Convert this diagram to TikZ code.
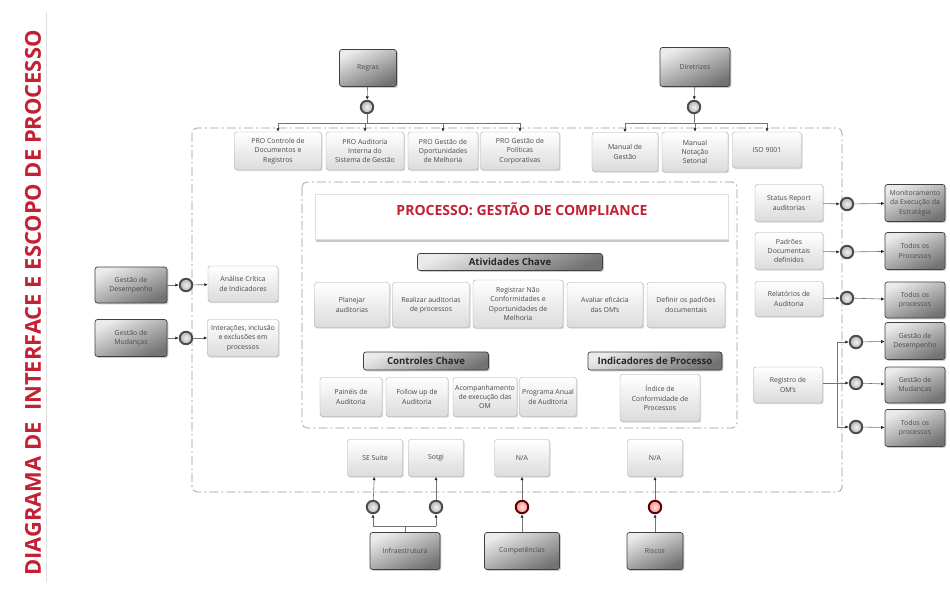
\documentclass[tikz,border=0pt]{standalone}
\usepackage{fontspec}
\setmainfont{Open Sans}
\usetikzlibrary{arrows.meta, shadows}

\definecolor{titlered}{RGB}{196,32,52}
\definecolor{boxtext}{RGB}{72,72,72}
\newcommand{\boxfont}{\fontsize{6.9}{9.4}\selectfont}

\tikzset{
  dims/.style 2 args={minimum width=#1pt, minimum height=#2pt},
  base/.style={rounded corners=2.5pt, align=center, inner sep=1pt, font=\boxfont, text=boxtext},
  lightbox/.style={base, draw=black!35, top color=white, bottom color=black!14,
    drop shadow={shadow xshift=1.2pt, shadow yshift=-1.2pt, opacity=0.3}},
  darkbox/.style={base, draw=black!75, line width=0.7pt, top color=black!8, bottom color=black!55,
    shading angle=25, text=black!70,
    drop shadow={shadow xshift=1.4pt, shadow yshift=-1.4pt, opacity=0.4}},
  header/.style={darkbox, font=\bfseries\fontsize{9.6}{10}\selectfont, text=black!85},
  titlebox/.style={draw=black!12, fill=white,
    drop shadow={shadow xshift=0.6pt, shadow yshift=-2.2pt, opacity=0.45}},
  port/.style={circle, draw=black!70, line width=1.9pt, inner color=black!5, outer color=black!30,
    minimum size=12.5pt, inner sep=0pt},
  riskport/.style={port, draw=red!35!black, inner color=red!12, outer color=red!45},
  link/.style={draw=black!55, line width=0.6pt},
  flow/.style={link, -{Latex[length=3.5pt, width=3.2pt, color=black!85]}},
  scopeline/.style={draw=black!40, line width=0.7pt, dash pattern=on 9pt off 3pt on 2pt off 3pt,
    rounded corners=5pt},
}

\begin{document}
\begin{tikzpicture}[x=1pt, y=-1pt]
  \useasboundingbox (0,0) rectangle (950,593);

  % side title
  \draw[black!12, line width=0.8pt] (46,12) -- (46,582);
  \node[rotate=90, font=\bfseries\fontsize{21.9}{22}\selectfont, text=titlered] (sidetitle) at (33,303)
    {DIAGRAMA DE~~INTERFACE E ESCOPO DE PROCESSO};

  % scope frames
  \draw[scopeline] (192,128) rectangle (842,492);
  \draw[scopeline] (302,182) rectangle (737,428);

  % rules and guidelines
  \node[darkbox, dims={57}{37}] (regras) at (368,68) {Regras};
  \node[port] (pregras) at (367,107) {};
  \node[darkbox, dims={70}{39}] (diretrizes) at (695,67) {Diretrizes};
  \node[port] (pdiretrizes) at (694,107) {};

  \node[lightbox, dims={87}{38}] (pro1) at (278,151) {PRO Controle de\\Documentos e\\Registros};
  \node[lightbox, dims={78}{38}] (pro2) at (365,151) {PRO Auditoria\\Interna do\\Sistema de Gestão};
  \node[lightbox, dims={70}{38}] (pro3) at (443,151) {PRO Gestão de\\Oportunidades\\de Melhoria};
  \node[lightbox, dims={79}{38}] (pro4) at (520,151) {PRO Gestão de\\Políticas\\Corporativas};
  \node[lightbox, dims={66}{39}] (man1) at (625,152) {Manual de\\Gestão};
  \node[lightbox, dims={66}{40}] (man2) at (695,152) {Manual\\Notação\\Setorial};
  \node[lightbox, dims={69}{36}] (iso) at (767,150) {ISO 9001};

  \coordinate (rbusL) at (278,123);
  \coordinate (rbusR) at (520,123);
  \coordinate (dbusL) at (625,123);
  \coordinate (dbusR) at (767,123);

  \draw[flow] (regras) -- (pregras);
  \draw[link] (pregras) -- (pregras |- rbusL);
  \draw[link] (rbusL) -- (rbusR);
  \foreach \p in {pro1,pro2,pro3,pro4}
    \draw[flow] (\p |- rbusL) -- (\p);
  \draw[flow] (diretrizes) -- (pdiretrizes);
  \draw[link] (pdiretrizes) -- (pdiretrizes |- dbusL);
  \draw[link] (dbusL) -- (dbusR);
  \foreach \p in {man1,man2,iso}
    \draw[flow] (\p |- dbusL) -- (\p);

  % left inputs
  \node[darkbox, dims={72}{36}] (gdin) at (131,285) {Gestão de\\Desempenho};
  \node[port] (pgdin) at (186,285) {};
  \node[lightbox, dims={70}{36}] (analise) at (243,284) {Análise Crítica\\de Indicadores};
  \node[darkbox, dims={72}{37}] (gmin) at (131,338) {Gestão de\\Mudanças};
  \node[port] (pgmin) at (186,338) {};
  \node[lightbox, dims={71}{37}] (interacoes) at (243,338) {Interações, inclusão\\e exclusões em\\processos};

  \draw[flow] (gdin) -- (pgdin);
  \draw[flow] (pgdin) -- (analise);
  \draw[flow] (gmin) -- (pgmin);
  \draw[flow] (pgmin) -- (interacoes);

  % process core
  \node[titlebox, dims={413}{45}] (procbox) at (522,217) {};
  \node[font=\bfseries\fontsize{14}{15}\selectfont, text=titlered] (proctitle) at (522,209)
    {PROCESSO: GESTÃO DE COMPLIANCE};

  \node[header, dims={185}{17}] (ativ) at (510,262) {Atividades Chave};
  \node[lightbox, dims={75}{45}] (act1) at (352,305) {Planejar\\auditorias};
  \node[lightbox, dims={77}{45}] (act2) at (431,305) {Realizar auditorias\\de processos};
  \node[lightbox, dims={90}{48}] (act3) at (518,304) {Registrar Não\\Conformidades e\\Oportunidades de\\Melhoria};
  \node[lightbox, dims={76}{45}] (act4) at (605,305) {Avaliar eficácia\\das OM's};
  \node[lightbox, dims={78}{45}] (act5) at (686,305) {Definir os padrões\\documentais};

  \node[header, dims={125}{18}] (ctrl) at (426,361) {Controles Chave};
  \node[header, dims={134}{18}] (indic) at (655,361) {Indicadores de Processo};
  \node[lightbox, dims={62}{39}] (ctl1) at (351,397) {Painéis de\\Auditoria};
  \node[lightbox, dims={62}{39}] (ctl2) at (417,397) {Follow up de\\Auditoria};
  \node[lightbox, dims={64}{39}] (ctl3) at (485,397) {Acompanhamento\\de execução das\\OM};
  \node[lightbox, dims={57}{39}] (ctl4) at (548,397) {Programa Anual\\de Auditoria};
  \node[lightbox, dims={80}{47}] (ind1) at (660,398) {Índice de\\Conformidade de\\Processos};

  % right outputs
  \node[lightbox, dims={68}{37}] (status) at (789,203) {Status Report\\auditorias};
  \node[port] (pstatus) at (847,204) {};
  \node[darkbox, dims={60}{37}] (monit) at (915,203) {Monitoramento\\da Execução da\\Estratégia};
  \node[lightbox, dims={68}{37}] (padroes) at (789,251) {Padrões\\Documentais\\definidos};
  \node[port] (ppadroes) at (847,252) {};
  \node[darkbox, dims={60}{37}] (todos1) at (915,251) {Todos os\\Processos};
  \node[lightbox, dims={68}{35}] (relat) at (789,299) {Relatórios de\\Auditoria};
  \node[port] (prelat) at (847,298) {};
  \node[darkbox, dims={60}{36}] (todos2) at (915,300) {Todos os\\processos};

  \draw[flow] (status) -- (pstatus);
  \draw[flow] (pstatus) -- (monit);
  \draw[flow] (padroes) -- (ppadroes);
  \draw[flow] (ppadroes) -- (todos1);
  \draw[flow] (relat) -- (prelat);
  \draw[flow] (prelat) -- (todos2);

  \node[lightbox, dims={69}{36}] (regom) at (788,385) {Registro de\\OM's};
  \node[port] (pom1) at (856,342) {};
  \node[port] (pom2) at (856,383) {};
  \node[port] (pom3) at (856,427) {};
  \node[darkbox, dims={60}{37}] (gdout) at (915,341) {Gestão de\\Desempenho};
  \node[darkbox, dims={60}{36}] (gmout) at (915,385) {Gestão de\\Mudanças};
  \node[darkbox, dims={60}{37}] (todos3) at (915,428) {Todos os\\processos};

  \coordinate (omjoint) at (837,383);
  \draw[link] (regom.east |- omjoint) -- (omjoint);
  \draw[link] (omjoint |- pom1) -- (omjoint |- pom3);
  \foreach \p/\q in {pom1/gdout, pom2/gmout, pom3/todos3} {
    \draw[flow] (omjoint |- \p) -- (\p);
    \draw[flow] (\p) -- (\q);
  }

  % resources
  \node[lightbox, dims={55}{37}] (sesuite) at (375,458) {SE Suite};
  \node[lightbox, dims={55}{37}] (sotgi) at (436,458) {Sotgi};
  \node[lightbox, dims={55}{37}] (na1) at (522,458) {N/A};
  \node[lightbox, dims={55}{37}] (na2) at (655,458) {N/A};
  \node[port] (pse) at (373,507) {};
  \node[port] (pso) at (436,507) {};
  \node[riskport] (pcomp) at (522,507) {};
  \node[riskport] (priscos) at (655,507) {};
  \node[darkbox, dims={70}{37}] (infra) at (405,551) {Infraestrutura};
  \node[darkbox, dims={75}{37}] (comp) at (522,551) {Competências};
  \node[darkbox, dims={56}{37}] (riscos) at (655,551) {Riscos};

  \coordinate (ibus) at (405,526);
  \draw[link] (infra) -- (ibus);
  \draw[link] (pse |- ibus) -- (pso |- ibus);
  \draw[flow] (pse |- ibus) -- (pse);
  \draw[flow] (pso |- ibus) -- (pso);
  \draw[flow] (pse) -- (sesuite);
  \draw[flow] (pso) -- (sotgi);
  \draw[flow] (comp) -- (pcomp);
  \draw[flow] (pcomp) -- (na1);
  \draw[flow] (riscos) -- (priscos);
  \draw[flow] (priscos) -- (na2);
\end{tikzpicture}
\end{document}
